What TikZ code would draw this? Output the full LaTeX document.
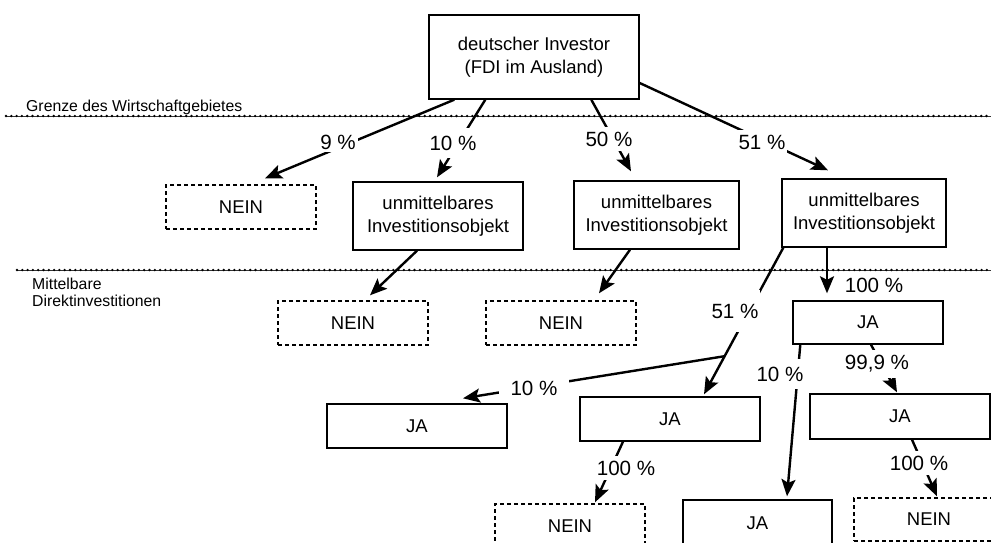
\documentclass[tikz,border=0pt]{standalone}
\usepackage{fontspec}
\setmainfont{Liberation Sans}
\usetikzlibrary{arrows.meta}

\tikzset{
  boxtext/.style={font=\fontsize{18.5}{22.5}\selectfont, align=center, inner sep=0pt},
  solidbox/.style={boxtext, draw, line width=1.4pt},
  dashbox/.style={boxtext, draw, line width=1.4pt, dash pattern=on 4pt off 3pt},
  link/.style={line width=2.4pt, -{Stealth[length=17pt,width=14pt,inset=3.5pt]}},
  pct/.style={font=\fontsize{20.6}{24}\selectfont, fill=white, inner xsep=2pt, inner ysep=5pt},
  zone/.style={font=\fontsize{15.8}{17}\selectfont, inner sep=0pt, anchor=base west},
  borderline/.style={line width=0.9pt, black!80},
  borderdots/.style={line width=2.6pt, dash pattern=on 0pt off 5.3pt, line cap=round},
}

\begin{document}
\begin{tikzpicture}[x=1pt, y=-1pt]
\useasboundingbox (0,0) rectangle (991,543);

% region borders
\coordinate (g1) at (6,116);   \coordinate (g1e) at (991,116);
\coordinate (g2) at (17,270);  \coordinate (g2e) at (991,270);
\draw[borderline] (g1) -- (g1e);
\draw[borderdots] (g1) -- (g1e);
\draw[borderline] (g2) -- (g2e);
\draw[borderdots] (g2) -- (g2e);
\node[zone] (grenze) at (26,111) {Grenze des Wirtschaftgebietes};
\node[zone] (mittelA) at (32,289) {Mittelbare};
\node[zone] (mittelB) at (32,306) {Direktinvestitionen};

% investor
\node[solidbox, minimum width=210pt, minimum height=84pt] (inv) at (534,57)
  {deutscher Investor\\(FDI im Ausland)};

% first level
\node[dashbox, minimum width=150pt, minimum height=44pt] (nein1) at (241,207) {NEIN};
\node[solidbox, minimum width=170pt, minimum height=68pt] (obj1) at (438,216)
  {unmittelbares\\Investitionsobjekt};
\node[solidbox, minimum width=165pt, minimum height=68pt] (obj2) at (656.5,215)
  {unmittelbares\\Investitionsobjekt};
\node[solidbox, minimum width=164pt, minimum height=68pt] (obj3) at (864,213)
  {unmittelbares\\Investitionsobjekt};

% indirect level
\node[dashbox, minimum width=150pt, minimum height=44pt] (nein2) at (353,323) {NEIN};
\node[dashbox, minimum width=150pt, minimum height=44pt] (nein3) at (561,323) {NEIN};
\node[solidbox, minimum width=150pt, minimum height=43pt] (ja100) at (868,322.5) {JA};
\node[solidbox, minimum width=180pt, minimum height=44pt] (jaL) at (417,426) {JA};
\node[solidbox, minimum width=180pt, minimum height=44pt] (ja51) at (670,419) {JA};
\node[solidbox, minimum width=180pt, minimum height=45pt] (ja999) at (900,416.5) {JA};
\node[dashbox, minimum width=150pt, minimum height=45pt] (neinBL) at (570,526.5) {NEIN};
\node[solidbox, minimum width=149pt, minimum height=46pt] (jaB) at (757.5,523) {JA};
\node[dashbox, minimum width=150pt, minimum height=43pt] (neinBR) at (929,519.5) {NEIN};

% connectors
\draw[link] ([xshift=26pt]inv.south west) -- ([shift={(24pt,6pt)}]nein1.north);
\draw[link] ([xshift=57pt]inv.south west) -- ([shift={(-1pt,4pt)}]obj1.north);
\draw[link] ([xshift=163pt]inv.south west) -- ([shift={(-25.5pt,9pt)}]obj2.north);
\draw[link] ([yshift=-26pt]inv.east) -- ([shift={(-36pt,8pt)}]obj3.north);

\draw[link] ([xshift=-21pt]obj1.south) -- ([shift={(17pt,5pt)}]nein2.north);
\draw[link] ([xshift=-26.5pt]obj2.south) -- ([shift={(38pt,7pt)}]nein3.north);
\draw[link] ([xshift=2pt]obj3.south west) -- ([shift={(34pt,2pt)}]ja51.north)
  coordinate[pos=0.74] (fork);
\draw[link] (fork) -- ([shift={(46pt,5pt)}]jaL.north);
\draw[link] ([xshift=-37pt]obj3.south) -- ([shift={(-41pt,7pt)}]ja100.north);

\draw[link] ([xshift=8pt]ja100.south west) -- ([shift={(29.5pt,3pt)}]jaB.north);
\draw[link] ([xshift=3pt]ja100.south) -- ([shift={(-3pt,1pt)}]ja999.north);
\draw[link] ([xshift=-47pt]ja51.south) -- ([shift={(25pt,1pt)}]neinBL.north);
\draw[link] ([xshift=12pt]ja999.south) -- ([shift={(8pt,1pt)}]neinBR.north);

% share labels
\node[pct, inner ysep=2.5pt] (p9) at (338,142) {9 \%};
\node[pct, inner ysep=8pt] (p10) at (453,143) {10 \%};
\node[pct] (p50) at (609,139) {50 \%};
\node[pct] (p51) at (762,142) {51 \%};
\node[pct, minimum height=42pt] (p51b) at (735,311) {51 \%};
\node[pct, inner xsep=12pt] (p10b) at (534,388) {10 \%};
\node[pct] (p100a) at (874,285) {100 \%};
\node[pct, inner ysep=8pt] (p10c) at (780,374) {10 \%};
\node[pct] (p999) at (877,364) {99,9 \%};
\node[pct] (p100b) at (626,468) {100 \%};
\node[pct] (p100c) at (919,463) {100 \%};
\end{tikzpicture}
\end{document}
